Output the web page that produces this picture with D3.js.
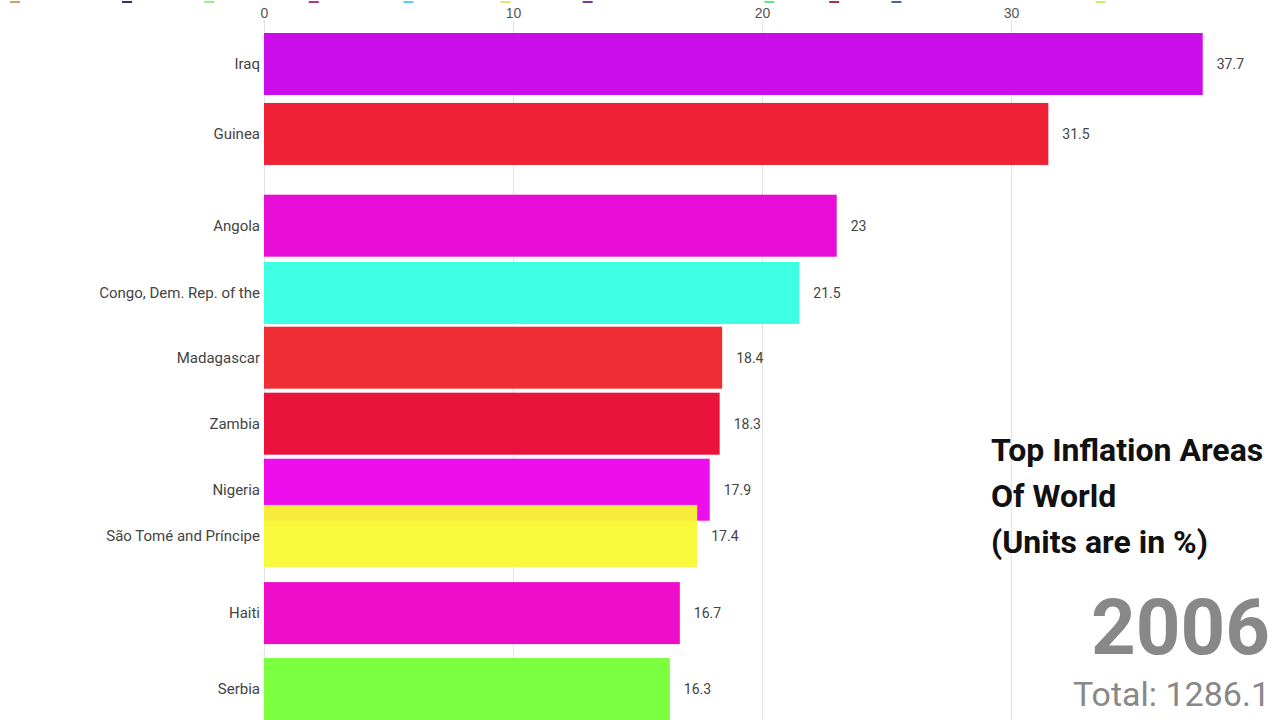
<!DOCTYPE html>
<html>
<head>
<meta charset="utf-8">
<script src="https://cdn.jsdelivr.net/npm/d3@7"></script>
<style>
  body { margin: 0; background: #fff; }
  svg { display: block; }
</style>
</head>
<body>
<script>
// Un cuadro de una "bar chart race": los valores son los del año 2006
const countries = ['Iraq', 'Guinea', 'Angola', 'Congo, Dem. Rep. of the', 'Madagascar',
    'Zambia', 'Nigeria', 'São Tomé and Príncipe', 'Haiti', 'Serbia'];
const values = [37.7, 31.5, 23, 21.5, 18.4, 18.3, 17.9, 17.4, 16.7, 16.3];
// posición (rango) de cada barra en este cuadro de la animación
const ranks = [0, 1.06, 2.45, 3.47, 4.45, 5.45, 6.45, 7.15, 8.32, 9.47];
const colors = ['#c800e9', '#ee1529', '#e600d4', '#34ffe1', '#ed222a', '#e90631',
    '#ec00ec', '#f8f832', '#ec00c8', '#74ff35'];

const ticks = [0, 10, 20, 30];
const year = '2006';
const total = 1286.1;
const titleLines = ['Top Inflation Areas', 'Of World', '(Units are in %)'];

// pequeñas marcas de colores que asoman por el borde superior
const topMarkValues = [-10.0, -5.5, -2.2, 2.0, 5.8, 9.7, 13.0, 20.3, 22.9, 25.4, 33.6];
const topMarkColors = ['#c9a265', '#3b2c72', '#93ee84', '#b23484', '#55d3e2', '#dbe966',
    '#833596', '#63e394', '#a33444', '#42659a', '#c4f266'];

const WIDTH = 1280, HEIGHT = 720;
const margin = {top: 20, left: 264};

const svg = d3.select('body')
    .append('svg')
        .attr('width', WIDTH)
        .attr('height', HEIGHT)
        .style('font-family', 'Roboto, sans-serif');

const xScale = d3.scaleLinear()
    .domain([0, 40])
    .range([margin.left, margin.left + 996]);

// rango -> borde superior de la barra
const yScale = d3.scaleLinear()
    .domain([0, 1])
    .range([33, 99]);
const barHeight = 62;

// Eje superior con las líneas de guía
const xAxis = d3.axisTop(xScale)
    .tickValues(ticks)
    .tickSizeInner(-(HEIGHT - margin.top))
    .tickSizeOuter(0)
    .tickPadding(2);

const axis = svg.append('g')
    .attr('class', 'axis axis--x')
    .attr('transform', `translate(0,${margin.top})`)
    .call(xAxis);
axis.select('.domain').remove();
axis.selectAll('.tick line').attr('stroke', '#e4e4e4');
axis.selectAll('.tick text')
    .attr('fill', '#555')
    .style('font-size', '14px');

svg.selectAll('.top-mark')
    .data(topMarkValues)
    .enter().append('rect')
        .attr('class', 'top-mark')
        .attr('x', d => xScale(d) - 5)
        .attr('y', 1)
        .attr('width', 10)
        .attr('height', 2)
        .attr('fill', (d, i) => topMarkColors[i]);

const data = countries.map((name, i) => ({name, value: values[i], rank: ranks[i], color: colors[i]}));

const bars = svg.selectAll('.bar')
    .data(data)
    .enter().append('g')
        .attr('class', 'bar');

bars.append('rect')
    .attr('x', xScale(0))
    .attr('y', d => yScale(d.rank))
    .attr('width', d => xScale(d.value) - xScale(0))
    .attr('height', barHeight)
    .attr('fill', d => d.color)
    .attr('fill-opacity', 0.95);

bars.append('text')
    .attr('x', xScale(0) - 4)
    .attr('y', d => yScale(d.rank) + barHeight / 2)
    .attr('dy', '0.35em')
    .attr('text-anchor', 'end')
    .attr('fill', '#444')
    .style('font-size', '15px')
    .text(d => d.name);

bars.append('text')
    .attr('x', d => xScale(d.value) + 14)
    .attr('y', d => yScale(d.rank) + barHeight / 2)
    .attr('dy', '0.35em')
    .attr('fill', '#444')
    .style('font-size', '14px')
    .text(d => d.value);

// Título
svg.append('g')
    .selectAll('text')
    .data(titleLines)
    .enter().append('text')
        .attr('x', 991)
        .attr('y', (d, i) => 461 + i * 46)
        .attr('fill', '#111')
        .style('font-size', '32px')
        .style('font-weight', 'bold')
        .text(d => d);

svg.append('text')
    .attr('x', 1270)
    .attr('y', 654)
    .attr('text-anchor', 'end')
    .attr('fill', '#888')
    .style('font-size', '78px')
    .style('font-weight', 'bold')
    .text(year);

svg.append('text')
    .attr('x', 1270)
    .attr('y', 706)
    .attr('text-anchor', 'end')
    .attr('fill', '#888')
    .style('font-size', '34px')
    .text(`Total: ${total}`);
</script>
</body>
</html>
